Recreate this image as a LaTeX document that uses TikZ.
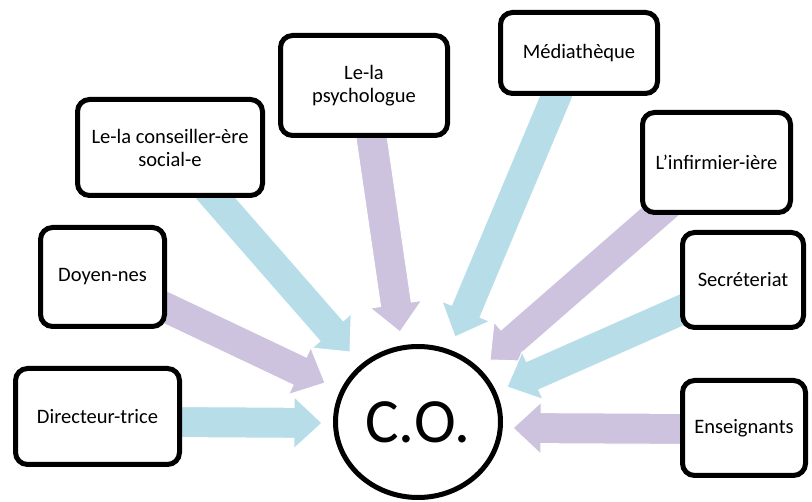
\documentclass[tikz,border=0pt]{standalone}
\usepackage{fontspec}
\setmainfont{Carlito}
\usetikzlibrary{calc,shapes.geometric}
\definecolor{arrblue}{RGB}{183,222,232}
\definecolor{arrlav}{RGB}{205,195,222}
% #1 colour, #2 tail coordinate, #3 tip coordinate
\newcommand{\blockarrow}[3]{%
  \coordinate (hb) at ($(#3)!28pt!(#2)$);
  \fill[#1, draw=white, line width=1pt]
    ($(#2)!15.5pt!90:(#3)$) -- ($(hb)!15.5pt!90:(#3)$) -- ($(hb)!26pt!90:(#3)$)
    -- (#3)
    -- ($(hb)!26pt!-90:(#3)$) -- ($(hb)!15.5pt!-90:(#3)$) -- ($(#2)!15.5pt!-90:(#3)$) -- cycle;
}
\tikzset{
  box/.style={draw, line width=5pt, rounded corners=12pt, fill=white, inner sep=0pt,
    align=center, font=\fontsize{20.5}{23}\selectfont},
  conode/.style={ellipse, draw, line width=5pt, fill=white, inner sep=0pt,
    minimum width=165pt, minimum height=151pt, font=\fontsize{63}{63}\selectfont}
}
\begin{document}
\begin{tikzpicture}[x=1pt,y=-1pt]
\useasboundingbox (0,0) rectangle (812,502);
% tails and tips
\coordinate (s1) at (170,422); \coordinate (t1) at (322,423);
\coordinate (s2) at (150,300); \coordinate (t2) at (325,383);
\coordinate (s3) at (204,185); \coordinate (t3) at (350,352);
\coordinate (s4) at (369,120); \coordinate (t4) at (400,332);
\coordinate (s5) at (563,80);  \coordinate (t5) at (455,337);
\coordinate (s6) at (670,203); \coordinate (t6) at (490,360);
\coordinate (s7) at (695,304); \coordinate (t7) at (507,387);
\coordinate (s8) at (695,429); \coordinate (t8) at (513,428);
% arrows
\blockarrow{arrblue}{s1}{t1}
\blockarrow{arrlav}{s2}{t2}
\blockarrow{arrblue}{s3}{t3}
\blockarrow{arrlav}{s4}{t4}
\blockarrow{arrblue}{s5}{t5}
\blockarrow{arrlav}{s6}{t6}
\blockarrow{arrblue}{s7}{t7}
\blockarrow{arrlav}{s8}{t8}
% boxes
\node[box, minimum width=164pt, minimum height=96pt] (dir) at (97.5,416.5) {Directeur-trice};
\node[box, minimum width=124pt, minimum height=99pt] (doy) at (102.5,277) {Doyen-nes};
\node[box, minimum width=185pt, minimum height=96pt] (con) at (170,147.5) {Le-la conseiller-ère\\social-e};
\node[box, minimum width=167pt, minimum height=100pt] (psy) at (364,85.5) {Le-la\\psychologue};
\node[box, minimum width=157pt, minimum height=81pt] (med) at (579,53) {Médiathèque};
\node[box, minimum width=148pt, minimum height=100pt] (inf) at (716.5,162.5) {L’infirmier-ière};
\node[box, minimum width=121pt, minimum height=95pt] (sec) at (743,280) {Secréteriat};
\node[box, minimum width=123pt, minimum height=95pt] (ens) at (744,428) {Enseignants};
% centre
\node[conode] (co) at (418,422) {C.O.};
\end{tikzpicture}
\end{document}
